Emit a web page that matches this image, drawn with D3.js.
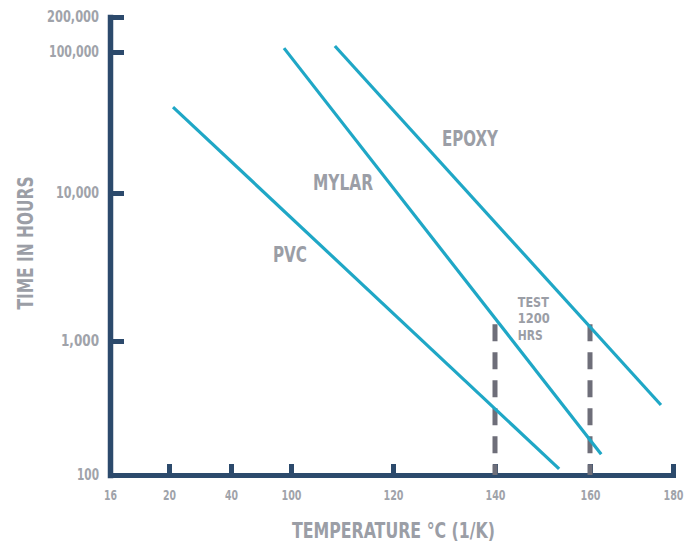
<!DOCTYPE html>
<html>
<head>
<meta charset="utf-8">
<script src="https://cdn.jsdelivr.net/npm/d3@7"></script>
<style>
  html, body { margin: 0; padding: 0; background: #fff; }
  svg { display: block; }
  text { font-family: 'Liberation Sans Narrow', 'DejaVu Sans Condensed', 'Roboto Condensed', sans-serif; font-weight: bold; fill: #9b9ea6; }
</style>
</head>
<body>
<svg id="chart" width="694" height="544"></svg>
<script>
// ---- data ----
const xTickLabels = [16, 20, 40, 100, 120, 140, 160, 180];
const yTickValues = [100, 1000, 10000, 100000, 200000];
const seriesNames = ["PVC", "MYLAR", "EPOXY"];
const pvc   = [[21.3, 40700], [153.5, 111]];
const mylar = [[93, 108000], [162.7, 143]];
const epoxy = [[108.6, 112700], [177.1, 333]];
const testTemps = [140, 160];
const testTopHours = 1300;
const testLabel = ["TEST", "1200", "HRS"];
const seriesLabelPos = [[99, 3420], [110.2, 10500], [135.1, 21500]];
const testLabelPos = [144.8, 1700];

// ---- scales ----
const svg = d3.select("#chart");
const x = d3.scaleLinear()
  .domain(xTickLabels)
  .range([110, 169, 231, 291, 393, 495, 590, 673]);
const y = d3.scaleLog()
  .domain(yTickValues)
  .range([475, 341, 193, 52, 17]);

const axisColor = "#2c4a6c";
const lineColor = "#1fa7c6";
const textColor = "#a0a3aa";

// ---- x axis ----
const gx = svg.append("g").attr("transform", `translate(0,${y(100)})`)
  .call(d3.axisBottom(x).tickValues(xTickLabels).tickSize(-11).tickSizeOuter(0).tickFormat(d3.format("d")));
gx.select(".domain").attr("stroke", axisColor).attr("stroke-width", 5).attr("stroke-linecap", "square");
gx.selectAll(".tick line").attr("stroke", axisColor).attr("stroke-width", 5);
gx.selectAll(".tick text").attr("y", 25).attr("dy", 0)
  .style("font-size", "14px").style("fill", textColor)
  .attr("textLength", d => String(d).length === 2 ? 13 : 20)
  .attr("lengthAdjust", "spacingAndGlyphs");

// ---- y axis ----
const gy = svg.append("g").attr("transform", `translate(${x(16)},0)`)
  .call(d3.axisLeft(y).tickValues(yTickValues).tickSize(-14).tickSizeOuter(0).tickPadding(11).tickFormat(d3.format(",")));
gy.select(".domain").attr("stroke", axisColor).attr("stroke-width", 5.5).attr("stroke-linecap", "square");
gy.selectAll(".tick line").attr("stroke", axisColor).attr("stroke-width", 5);
const yLabelWidths = [22, 38, 43, 50, 52];
gy.selectAll(".tick text")
  .style("font-size", "15px").style("fill", textColor)
  .attr("textLength", (d, i) => yLabelWidths[i])
  .attr("lengthAdjust", "spacingAndGlyphs");

// ---- test dashed lines ----
svg.append("g").selectAll("line").data(testTemps).join("line")
  .attr("x1", d => x(d)).attr("x2", d => x(d))
  .attr("y1", y(testTopHours)).attr("y2", y(100))
  .attr("stroke", "#6e6e79").attr("stroke-width", 5).attr("stroke-dasharray", "17,11");

// ---- series lines ----
const line = d3.line().x(d => x(d[0])).y(d => y(d[1]));
svg.append("g").selectAll("path").data([pvc, mylar, epoxy]).join("path")
  .attr("d", line).attr("fill", "none").attr("stroke", lineColor).attr("stroke-width", 3.2);

// ---- series labels ----
const labelWidths = [34, 60, 56];
svg.append("g").selectAll("text").data(seriesNames).join("text")
  .attr("x", (d, i) => x(seriesLabelPos[i][0]))
  .attr("y", (d, i) => y(seriesLabelPos[i][1]))
  .attr("text-anchor", "middle")
  .attr("textLength", (d, i) => labelWidths[i])
  .attr("lengthAdjust", "spacingAndGlyphs")
  .style("font-size", "22px")
  .text(d => d);

// ---- test label ----
const testWidths = [31, 32, 25];
svg.append("g").selectAll("text").data(testLabel).join("text")
  .attr("x", x(testLabelPos[0]))
  .attr("y", (d, i) => y(testLabelPos[1]) + i * 16.5)
  .attr("textLength", (d, i) => testWidths[i])
  .attr("lengthAdjust", "spacingAndGlyphs")
  .style("font-size", "14px")
  .text(d => d);

// ---- axis titles ----
svg.append("text")
  .attr("x", 292).attr("y", 538)
  .attr("textLength", 203).attr("lengthAdjust", "spacingAndGlyphs")
  .style("font-size", "22px")
  .text("TEMPERATURE °C (1/K)");
svg.append("text")
  .attr("transform", "translate(33,243) rotate(-90)")
  .attr("text-anchor", "middle")
  .attr("textLength", 133).attr("lengthAdjust", "spacingAndGlyphs")
  .style("font-size", "22px")
  .text("TIME IN HOURS");
</script>
</body>
</html>
